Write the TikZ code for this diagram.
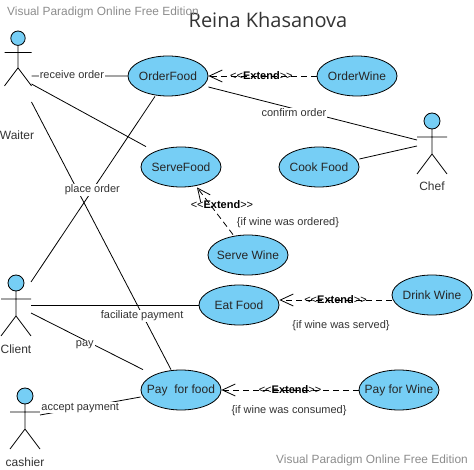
\documentclass[tikz,border=0pt]{standalone}
\usepackage{fontspec}
\usepackage{xcolor}
\usepackage{tikz}
\usetikzlibrary{shapes.geometric,arrows.meta}
\setmainfont{Liberation Sans}
\newfontfamily\titlefont{Open Sans}
\definecolor{ucfill}{RGB}{118,206,245}
\definecolor{uctext}{gray}{0.2}
\definecolor{wmtext}{gray}{0.55}
\newcommand{\extword}{{<}{<}\textbf{Extend}{>}{>}}

\begin{document}
\begin{tikzpicture}[x=1pt,y=-1pt,line width=0.8pt,
  uc/.style={ellipse,draw,fill=ucfill,minimum width=80pt,minimum height=40pt,inner xsep=-14pt,inner ysep=0pt,font=\fontsize{12}{14}\selectfont,text=black!85},
  actorbox/.style={rectangle,inner sep=0pt,outer sep=0pt},
  lbl/.style={font=\fontsize{11}{13}\selectfont,text=uctext,inner sep=1pt},
  lblbg/.style={lbl,fill=white},
  actorlbl/.style={font=\fontsize{12}{14}\selectfont,text=uctext,inner sep=0pt},
  wm/.style={font=\fontsize{11.9}{14}\selectfont,text=wmtext,inner sep=0pt},
  ext/.style={dash pattern=on 6pt off 4pt,-{Straight Barb[length=13pt,width=12pt,line width=0.8pt]}},
  extlbl/.style={font=\fontsize{11}{13}\selectfont,inner sep=0pt},
]
\useasboundingbox (0,0) rectangle (474,470);
% title and watermarks
\node[font=\titlefont\fontsize{20}{24}\selectfont,text=black!80,inner sep=0pt] (title) at (268,20) {Reina Khasanova};
\node[wm] (wmtop) at (103,12) {Visual Paradigm Online Free Edition};
\node[wm] (wmbot) at (372,460) {Visual Paradigm Online Free Edition};
% actors
\foreach \nm/\x/\y/\s in {waiter/18/31/0.9,chef/432/113/1,client/16/275/1,cashier/25/388/1}{
  \begin{scope}[shift={(\x,\y)},scale=\s]
    \draw[fill=ucfill] (0,8) circle (8);
    \draw (0,16) -- (0,41) (-15,24) -- (15,24) (-15,61) -- (0,41) -- (15,61);
    \node[actorbox,name=\nm,minimum width=30*\s,minimum height=61*\s] at (0,30) {};
  \end{scope}
}
\node[actorlbl] (waiterlbl) at (17,135) {Waiter};
\node[actorlbl] (cheflbl) at (432,186) {Chef};
\node[actorlbl] (clientlbl) at (16,349) {Client};
\node[actorlbl] (cashierlbl) at (25,462) {cashier};
% use cases
\node[uc] (orderfood) at (168,76) {OrderFood};
\node[uc] (orderwine) at (357,76) {OrderWine};
\node[uc] (servefood) at (181,167) {ServeFood};
\node[uc] (cookfood) at (319,167) {Cook Food};
\node[uc] (servewine) at (248,255) {Serve Wine};
\node[uc] (eatfood) at (239,305) {Eat Food};
\node[uc] (drinkwine) at (432,295) {Drink Wine};
\node[uc] (payfood) at (181,390) {Pay\ \ for food};
\node[uc] (paywine) at (399,390) {Pay for Wine};
% associations
\draw ([yshift=-18pt]waiter.east) -- node[lblbg,pos=.42,yshift=1.5pt] (lblreceive) {receive order} (orderfood.west);
\draw ([yshift=-26pt]waiter.east) -- ([xshift=-35pt]servefood.north);
\draw ([yshift=-44pt]waiter.east) -- node[lblbg,pos=.8,xshift=-1pt] (lblfaciliate) {faciliate payment} ([xshift=-10pt]payfood.north);
\draw ([yshift=23pt]client.east) -- node[lblbg,pos=.495] (lblplace) {place order} ([xshift=-13pt]orderfood.south);
\draw (client.east) -- (eatfood.west);
\draw ([yshift=-8pt]client.east) -- node[lblbg,pos=.48,yshift=-5pt] (lblpay) {pay} ([xshift=-38pt]payfood.north);
\draw ([yshift=3pt]cashier.east) -- node[lblbg,pos=.4] (lblaccept) {accept payment} ([yshift=-7pt]payfood.west);
\draw ([yshift=-11pt]orderfood.east) -- node[lblbg,pos=.41,yshift=-4pt] (lblconfirm) {confirm order} ([yshift=3pt]chef.west);
\draw ([yshift=8pt]cookfood.east) -- ([yshift=-3pt]chef.west);
% extend relations
\draw[ext] (orderwine.west) -- node[extlbl,pos=.51] (extorder) {\extword} (orderfood.east);
\draw[ext] ([xshift=-15pt]servewine.north) -- node[extlbl,pos=.64,xshift=12pt] (extserve) {\extword} ([xshift=16pt]servefood.south);
\draw[ext] ([yshift=-5pt]drinkwine.west) -- node[extlbl,pos=.5] (extdrink) {\extword} ([yshift=5pt]eatfood.east);
\draw[ext] (paywine.west) -- node[extlbl,pos=.5] (extpay) {\extword} (payfood.east);
% conditions
\node[lbl] (condordered) at (288,223) {\{if wine was ordered\}};
\node[lbl] (condserved) at (341,326) {\{if wine was served\}};
\node[lbl] (condconsumed) at (289,411) {\{if wine was consumed\}};
\end{tikzpicture}
\end{document}
